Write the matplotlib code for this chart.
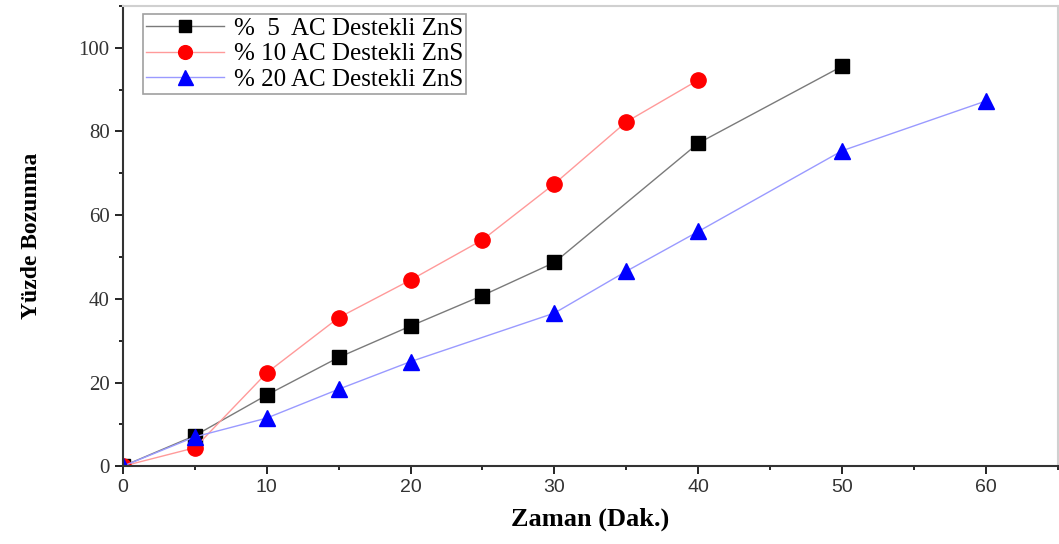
import numpy as np
import matplotlib.pyplot as plt
from matplotlib.ticker import MultipleLocator

# Fotokatalitik bozunma verileri
zaman_5 = [0, 5, 10, 15, 20, 25, 30, 40, 50]
bozunma_5 = [0, 7.3, 17.0, 26.0, 33.5, 40.8, 48.7, 77.2, 95.6]

zaman_10 = [0, 5, 10, 15, 20, 25, 30, 35, 40]
bozunma_10 = [0, 4.4, 22.3, 35.5, 44.5, 54.1, 67.5, 82.3, 92.3]

zaman_20 = [0, 5, 10, 15, 20, 30, 35, 40, 50, 60]
bozunma_20 = [0, 7.0, 11.5, 18.4, 25.0, 36.6, 46.6, 56.1, 75.4, 87.3]

etiketler = ["%  5  AC Destekli ZnS", "% 10 AC Destekli ZnS", "% 20 AC Destekli ZnS"]

serif = ["Liberation Serif", "DejaVu Serif"]
sans = ["Liberation Sans", "DejaVu Sans"]

fig = plt.figure(figsize=(10.59, 5.44), dpi=100)
ax = fig.add_axes([0.116, 0.143, 0.883, 0.846])

ax.plot(zaman_5, bozunma_5, color="#7a7a7a", lw=1.0, marker="s", ms=10,
        mfc="black", mec="black", label=etiketler[0])
ax.plot(zaman_10, bozunma_10, color="#ff9a9a", lw=1.0, marker="o", ms=11,
        mfc="red", mec="red", label=etiketler[1])
ax.plot(zaman_20, bozunma_20, color="#9a9aff", lw=1.0, marker="^", ms=12,
        mfc="blue", mec="blue", label=etiketler[2])

ax.set_xlim(0, 65)
ax.set_ylim(0, 110)
ax.xaxis.set_major_locator(MultipleLocator(10))
ax.xaxis.set_minor_locator(MultipleLocator(5))
ax.yaxis.set_major_locator(MultipleLocator(20))
ax.yaxis.set_minor_locator(MultipleLocator(10))

ax.tick_params(which="major", direction="out", length=6, width=1.2)
ax.tick_params(which="minor", direction="out", length=3, width=1.2)
ax.tick_params(axis="y", which="both", right=False)
ax.tick_params(axis="x", which="both", top=False)

for lab in ax.get_xticklabels():
    lab.set_family(sans)
    lab.set_fontsize(14)
    lab.set_color("#333333")
for lab in ax.get_yticklabels():
    lab.set_family(serif)
    lab.set_fontsize(15)
    lab.set_color("#333333")

for s in ["left", "bottom"]:
    ax.spines[s].set_color("#333333")
    ax.spines[s].set_linewidth(1.5)
for s in ["top", "right"]:
    ax.spines[s].set_color("#d0d0d0")
    ax.spines[s].set_linewidth(1.5)

ax.set_xlabel("Zaman (Dak.)", family=serif, fontweight="bold", fontsize=19, labelpad=8)
ax.set_ylabel("Yüzde Bozunma", family=serif, fontweight="bold", fontsize=17, labelpad=26)

leg = ax.legend(loc="upper left", bbox_to_anchor=(0.014, 0.998), prop={"family": serif, "size": 18},
                frameon=True, fancybox=False, edgecolor="#888888", handlelength=3.1,
                borderpad=0.12, labelspacing=0.12, handletextpad=0.4, borderaxespad=0.3,
                markerscale=0.9)
leg.get_frame().set_linewidth(1.2)

fig.savefig("out.png", dpi=100)
